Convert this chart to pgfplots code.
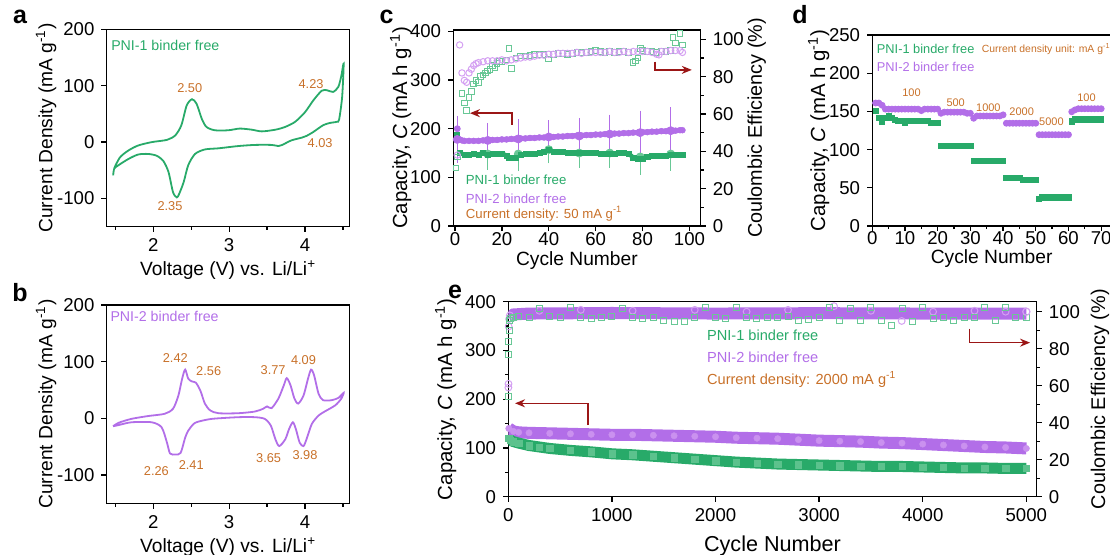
\documentclass[border=0pt]{standalone}
\usepackage{fontspec}
\setmainfont{Liberation Sans}
\usepackage{pgfplots}
\pgfplotsset{compat=1.18}
\usetikzlibrary{arrows.meta}
\definecolor{pgreen}{RGB}{40,170,105}
\definecolor{ppurple}{RGB}{178,110,232}
\definecolor{lgreen}{RGB}{105,200,150}
\definecolor{lpurple}{RGB}{212,160,242}
\definecolor{anno}{RGB}{200,112,40}
\definecolor{darr}{RGB}{155,22,22}
\newcommand{\tfont}{\fontsize{9.3}{10}\selectfont}
\newcommand{\lfont}{\fontsize{9.6}{11}\selectfont}
\newcommand{\afont}{\fontsize{6.4}{7}\selectfont}
\pgfplotsset{
  base/.style={scale only axis, axis line style={line width=0.75pt}, tick align=outside,
    major tick length=2.6pt, minor tick length=1.6pt,
    every tick/.style={black, line width=0.65pt},
    tick label style={font=\tfont, black}, label style={font=\lfont},
    /pgf/number format/assume math mode=true, /pgf/number format/1000 sep={},
    scaled ticks=false},
  panel/.style={base, tick pos=left},
  rpanel/.style={base, axis y line*=right, axis x line=none, ytick pos=right}
}
\begin{document}
\begin{tikzpicture}
\useasboundingbox (0,0) rectangle (555pt,277pt);
% ---------------- panel a
\begin{axis}[panel, at={(53.35pt,163.65pt)}, anchor=south west, width=121.4pt, height=98.7pt,
  xmin=1.385, xmax=4.587, ymin=-150, ymax=200, xtick={2,3,4}, minor xtick={1.5,2.5,3.5,4.5},
  ytick={-100,0,100,200}, xlabel={Voltage (V) vs. Li/Li\textsuperscript{+}},
  ylabel={Current Density (mA g\textsuperscript{-1})},
  xlabel style={yshift=2.5pt}, ylabel style={yshift=-6.5pt}]
\addplot[pgreen, line width=0.9pt, smooth, tension=0.45] coordinates {
(1.485,-46) (1.56,-27) (1.67,-15) (1.80,-6) (1.98,0) (2.18,4) (2.29,12) (2.37,30) (2.44,65) (2.51,76) (2.57,68) (2.64,41) (2.70,27) (2.81,21) (2.99,21) (3.14,24) (3.30,22) (3.43,19) (3.61,22) (3.74,27) (3.87,36) (4.00,53) (4.11,74) (4.22,91) (4.29,92) (4.37,89) (4.44,98) (4.48,118) (4.51,139)
(4.49,80) (4.45,40) (4.42,36) (4.33,34) (4.24,30) (4.11,18) (4.02,11) (3.96,8) (3.82,3) (3.70,-5) (3.65,-7) (3.56,-5) (3.34,-5) (3.12,-7) (2.86,-11) (2.68,-13) (2.55,-21) (2.46,-41) (2.40,-71) (2.34,-92) (2.31,-98) (2.26,-89) (2.20,-53) (2.13,-33) (2.04,-24) (1.93,-21) (1.80,-22) (1.67,-30) (1.54,-41) (1.485,-47) (1.47,-59)};
\node[anno, font=\afont] at (axis cs:2.48,95) {2.50};
\node[anno, font=\afont] at (axis cs:2.22,-114) {2.35};
\node[anno, font=\afont] at (axis cs:4.08,102) {4.23};
\node[anno, font=\afont] at (axis cs:4.20,-1) {4.03};
\node[pgreen, font=\fontsize{7.1}{8}\selectfont, anchor=west, inner sep=0pt] at (axis cs:1.44,172) {PNI-1 binder free};
\end{axis}
% ---------------- panel b
\begin{axis}[panel, at={(53.35pt,25.35pt)}, anchor=south west, width=121.4pt, height=99.15pt,
  xmin=1.385, xmax=4.587, ymin=-150, ymax=200, xtick={2,3,4}, minor xtick={1.5,2.5,3.5,4.5},
  ytick={-100,0,100,200}, xlabel={Voltage (V) vs. Li/Li\textsuperscript{+}},
  ylabel={Current Density (mA g\textsuperscript{-1})},
  xlabel style={yshift=2.5pt}, ylabel style={yshift=-6.5pt}]
\addplot[ppurple, line width=0.9pt, smooth, tension=0.45] coordinates {
(1.47,-14) (1.54,-8) (1.71,-1) (1.93,4) (2.15,8) (2.26,17) (2.33,40) (2.38,70) (2.42,86) (2.46,70) (2.51,65) (2.56,63) (2.62,49) (2.68,26) (2.75,14) (2.86,9) (3.12,9) (3.34,12) (3.45,17) (3.50,21) (3.56,18) (3.65,35) (3.72,58) (3.76,71) (3.81,58) (3.86,35) (3.91,26) (3.98,40) (4.04,70) (4.08,86) (4.12,76) (4.18,43) (4.24,32) (4.35,32) (4.44,36) (4.51,45)
(4.48,35) (4.40,23) (4.26,12) (4.18,5) (4.09,-10) (4.02,-37) (3.98,-49) (3.93,-43) (3.88,-19) (3.84,-7) (3.79,-19) (3.74,-37) (3.66,-49) (3.61,-37) (3.55,-13) (3.47,-1) (3.34,2) (3.12,2) (2.77,-1) (2.59,-6) (2.53,-10) (2.46,-22) (2.42,-34) (2.36,-61) (2.29,-64) (2.22,-62) (2.18,-43) (2.11,-16) (1.98,-7) (1.71,-7) (1.54,-12) (1.47,-14)};
\node[anno, font=\afont] at (axis cs:2.29,107) {2.42};
\node[anno, font=\afont] at (axis cs:2.73,83) {2.56};
\node[anno, font=\afont] at (axis cs:3.58,85) {3.77};
\node[anno, font=\afont] at (axis cs:3.98,102) {4.09};
\node[anno, font=\afont] at (axis cs:2.04,-93) {2.26};
\node[anno, font=\afont] at (axis cs:2.50,-83) {2.41};
\node[anno, font=\afont] at (axis cs:3.52,-70) {3.65};
\node[anno, font=\afont] at (axis cs:4.00,-65) {3.98};
\node[ppurple, font=\fontsize{7.1}{8}\selectfont, anchor=west, inner sep=0pt] at (axis cs:1.43,179) {PNI-2 binder free};
\end{axis}
% ---------------- panel c
\begin{axis}[panel, at={(226.65pt,164pt)}, anchor=south west, width=123.6pt, height=98pt,
  xmin=-0.7, xmax=104.7, ymin=0, ymax=403, xtick={0,20,...,100}, ytick={0,100,...,400},
  xlabel={Cycle Number}, ylabel={Capacity, \textit{C} (mA h g\textsuperscript{-1})},
  xticklabel style={yshift=3pt}, xlabel style={yshift=4pt},
  ylabel style={font=\fontsize{10.2}{11}\selectfont, yshift=-7.5pt}]
\addplot[lgreen, only marks, mark=none, error bars/.cd, y dir=both, y explicit,
  error bar style={lgreen, line width=0.7pt}, error mark options={lgreen, mark size=2pt, line width=0.7pt}]
  coordinates {(14,148) +- (0,24) (27,148) +- (0,27) (40,157) +- (0,20) (53,150) +- (0,22) (66,150) +- (0,22) (79,142) +- (0,28) (92,148) +- (0,26)};
\addplot[pgreen, line width=2.2pt, mark=square*, mark size=1.3pt, mark options={line width=0.2pt}] coordinates {
(2,150) (4,147) (6,146) (8,148) (10,147) (12,150) (14,146) (16,148) (18,149) (20,149) (22,145) (23,140) (25,140) (26,141) (28,147) (30,148) (32,149) (34,149) (36,150) (38,153) (40,157) (42,153) (44,152) (46,152) (48,151) (50,151) (52,150) (54,150) (56,150) (58,150) (60,150) (62,149) (64,149) (66,149) (68,149) (70,150) (72,150) (74,149) (76,141) (78,139) (80,138) (82,142) (84,144) (86,145) (88,145) (90,145) (92,146) (94,146) (96,147) (97,147)};
\addplot[pgreen, only marks, mark=square*, mark size=1.3pt] coordinates {(1,187)};
\addplot[ppurple, line width=2.6pt, mark=*, mark size=1.5pt, mark options={line width=0.2pt}] coordinates {
(2,178) (3,176) (4,175) (6,175) (8,175) (10,175) (12,176) (14,176) (16,177) (18,177) (20,178) (22,178) (24,179) (26,179) (28,180) (30,180) (32,181) (34,181) (36,182) (38,182) (40,183) (42,183) (44,184) (46,184) (48,185) (50,185) (52,186) (54,186) (56,187) (58,187) (60,188) (62,188) (64,189) (66,189) (68,190) (70,190) (72,191) (74,191) (76,192) (78,192) (80,193) (82,193) (84,194) (86,194) (88,195) (90,195) (92,196) (94,196) (96,197) (97,197)};
\addplot[ppurple, only marks, mark=*, mark size=1.5pt] coordinates {(1,200)};
\addplot[ppurple, only marks, mark=none, error bars/.cd, y dir=both, y explicit,
  error bar style={ppurple, line width=0.7pt}, error mark options={ppurple, mark size=2pt, line width=0.7pt}]
  coordinates {(1,178) +- (0,40) (14,176) +- (0,28) (27,179) +- (0,32) (40,183) +- (0,26) (53,185) +- (0,29) (66,189) +- (0,32) (79,192) +- (0,37) (92,196) +- (0,40)};
\draw[darr, line width=0.8pt, -{Stealth[length=5pt,width=4pt]}] (axis cs:24.2,208) -- (axis cs:24.2,232) -- (axis cs:6.4,232);
\draw[darr, line width=0.8pt, -{Stealth[length=5pt,width=4pt]}] (axis cs:85.3,338) -- (axis cs:85.3,321) -- (axis cs:101,321);
\node[pgreen, font=\fontsize{6.6}{7}\selectfont, anchor=west, inner sep=0pt] at (axis cs:4.5,95) {PNI-1 binder free};
\node[ppurple, font=\fontsize{6.6}{7}\selectfont, anchor=west, inner sep=0pt] at (axis cs:4.5,56) {PNI-2 binder free};
\node[anno, font=\fontsize{6.6}{7}\selectfont, anchor=west, inner sep=0pt] at (axis cs:4.5,25) {Current density: 50 mA g\textsuperscript{-1}};
\end{axis}
\begin{axis}[rpanel, at={(226.65pt,164pt)}, anchor=south west, width=123.6pt, height=98pt,
  xmin=-0.7, xmax=104.7, ymin=0, ymax=105, ytick={0,20,...,100}, minor ytick={10,30,...,90},
  ylabel={Coulombic Efficiency (\%)}, ylabel style={font=\fontsize{9.9}{11}\selectfont, yshift=5pt}]
\addplot[lgreen, only marks, mark=square, mark size=1.4pt, line width=0.5pt] coordinates {
(0.5,31) (1,37) (3,71) (4,66) (5,62) (6,69) (7,72) (8,76) (9,78) (10,77) (11,80) (12,81) (13,82) (14,83) (15,84) (16,86) (17,85) (18,87) (19,88) (20,88) (22,89) (23,95) (24,84.5) (26,90) (28,91) (30,91) (32,91.5) (34,92) (36,92) (38,92) (40,89.5) (42,92) (44,92.5) (46,92.5) (48,92) (50,92.5) (52,93) (54,93) (56,93) (58,93.5) (60,94) (62,93.5) (64,93) (66,93.5) (68,93) (70,93.5) (72,93.5) (74,93) (76,87.5) (77,88.5) (78,90) (79,95) (80,94) (82,93.5) (84,93.5) (86,93) (88,93.5) (90,93.5) (92,94) (93,101) (94,98) (96,103) (97,97)};
\addplot[lpurple, only marks, mark=o, mark size=1.6pt, line width=0.5pt] coordinates {
(1,38) (2,97) (3,82) (4,78) (5,77) (6,82) (7,84) (8,86) (9,87) (10,87.5) (12,88) (14,88.5) (16,88.5) (18,88.5) (20,89) (22,88.5) (24,89) (26,89.5) (28,90) (30,90.5) (32,90.5) (34,91) (36,91.5) (38,91.5) (40,92) (42,92) (44,92.5) (46,92.5) (48,92.5) (50,92.5) (52,93) (54,92.5) (56,93) (58,93) (60,93) (62,93) (64,93) (66,93.5) (68,93) (70,93) (72,93.5) (74,93) (76,93.5) (78,93.5) (80,93.5) (82,93.5) (84,93) (86,92) (87,91.7) (88,93.5) (90,93.5) (92,94) (94,94) (96,94) (97,93)};
\end{axis}
% ---------------- panel d
\begin{axis}[panel, at={(436.15pt,164pt)}, anchor=south west, width=119.35pt, height=95.5pt,
  xmin=0, xmax=73, ymin=0, ymax=250, xtick={0,10,...,70}, minor xtick={5,15,...,65}, ytick={0,50,...,250},
  xlabel={Cycle Number}, ylabel={Capacity, \textit{C} (mA h g\textsuperscript{-1})},
  xticklabel style={yshift=3.5pt}, xlabel style={yshift=4.5pt},
  ylabel style={font=\fontsize{10.2}{11}\selectfont, yshift=-7pt}]
\addplot[pgreen, only marks, mark=square*, mark size=1.3pt] coordinates {
(1,151) (2,141) (3,137) (4,142) (5,144) (6,141) (7,139) (8,138) (9,138) (10,135) (11,138) (12,138) (13,138) (14,138) (15,138) (16,138) (17,138) (18,135) (19,135) (20,135)
(21,105) (22,105) (23,105) (24,105) (25,105) (26,105) (27,105) (28,105) (29,105) (30,105)
(31,85) (32,85) (33,85) (34,85) (35,85) (36,85) (37,85) (38,85) (39,85) (40,85)
(41,63) (42,63) (43,63) (44,63) (45,63) (46,60.5) (47,60.5) (48,60.5) (49,60.5) (50,60.5)
(51,35) (52,37.5) (53,37.5) (54,37.5) (55,37.5) (56,37.5) (57,37.5) (58,37.5) (59,37.5) (60,37.5)
(61,137) (62,139.5) (63,139.5) (64,139.5) (65,139.5) (66,139.5) (67,139.5) (68,139.5) (69,139.5) (70,139.5)};
\addplot[ppurple, only marks, mark=*, mark size=1.5pt] coordinates {
(1,161) (2,161) (3,158) (4,153) (5,153) (6,153) (7,153) (8,153) (9,153) (10,153) (11,153) (12,153) (13,153) (14,153) (15,151) (16,153) (17,153) (18,153) (19,153) (20,153)
(21,147.5) (22,149) (23,149) (24,149) (25,149) (26,149) (27,149) (28,149) (29,147.5) (30,147.5)
(31,141) (32,144) (33,144) (34,144) (35,144) (36,144) (37,144) (38,144) (39,144) (40,145.5)
(41,134.5) (42,134.5) (43,134.5) (44,134.5) (45,134.5) (46,134.5) (47,134.5) (48,134.5) (49,134.5) (50,134.5)
(51,119.5) (52,119.5) (53,119.5) (54,119.5) (55,119.5) (56,119.5) (57,119.5) (58,119.5) (59,119.5) (60,119.5)
(61,149.5) (62,152) (63,153.5) (64,153.5) (65,153.5) (66,153.5) (67,153.5) (68,153.5) (69,153.5) (70,153.5)};
\node[anno, font=\fontsize{5.5}{6}\selectfont] at (axis cs:12,174.5) {100};
\node[anno, font=\fontsize{5.5}{6}\selectfont] at (axis cs:25.5,161) {500};
\node[anno, font=\fontsize{5.5}{6}\selectfont] at (axis cs:35.5,155) {1000};
\node[anno, font=\fontsize{5.5}{6}\selectfont] at (axis cs:45.7,149) {2000};
\node[anno, font=\fontsize{5.5}{6}\selectfont] at (axis cs:54.8,136.6) {5000};
\node[anno, font=\fontsize{5.5}{6}\selectfont] at (axis cs:65.5,168) {100};
\node[pgreen, font=\fontsize{6.4}{7}\selectfont, anchor=west, inner sep=0pt] at (axis cs:1.3,231.7) {PNI-1 binder free};
\node[ppurple, font=\fontsize{6.4}{7}\selectfont, anchor=west, inner sep=0pt] at (axis cs:1.3,207.7) {PNI-2 binder free};
\node[anno, font=\fontsize{5.2}{6}\selectfont, anchor=west, inner sep=0pt] at (axis cs:33.4,231.7) {Current density unit: mA g\textsuperscript{-1}};
\end{axis}
% ---------------- panel e
\begin{axis}[panel, at={(254.15pt,28.65pt)}, anchor=south west, width=264.2pt, height=97.5pt,
  xmin=0, xmax=5100, ymin=0, ymax=400, xtick={0,1000,...,5000}, ytick={0,100,...,400}, minor ytick={50,150,...,350},
  xlabel={Cycle Number}, xlabel style={font=\fontsize{10.8}{12}\selectfont},
  ylabel={Capacity, \textit{C} (mA h g\textsuperscript{-1})},
  ylabel style={font=\fontsize{10.2}{11}\selectfont, yshift=-2.5pt}]
\addplot[ppurple, line width=6pt, mark=*, mark size=1.6pt, mark options={fill=lpurple!70!ppurple, draw=lpurple!70!ppurple, line width=0.2pt}] coordinates {
(5,140) (50,134) (100,132) (200,131) (400,130) (600,129) (800,128) (1000,127) (1200,127) (1400,126) (1600,125) (1800,124) (2000,123) (2200,121) (2400,120) (2600,119) (2800,117) (3000,115) (3200,114) (3400,113) (3600,111) (3800,110) (4000,108) (4200,106) (4400,104) (4600,102) (4800,101) (5000,99)};
\addplot[pgreen, line width=5.5pt, mark=square*, mark size=1.6pt, mark options={fill=lgreen!80!pgreen, draw=lgreen!80!pgreen, line width=0.2pt}] coordinates {
(5,120) (20,116) (50,113) (100,110) (200,105) (300,102) (400,99) (600,95) (800,92) (1000,88) (1200,86) (1400,83) (1600,80) (1800,77) (2000,74) (2200,71) (2400,69) (2600,67) (2800,66) (3000,65) (3200,64) (3400,63) (3600,62) (3800,62) (4000,61) (4200,60) (4400,59) (4600,59) (4800,58) (5000,58)};
\draw[darr, line width=0.8pt, -{Stealth[length=5pt,width=4pt]}] (axis cs:772,147) -- (axis cs:772,191.6) -- (axis cs:65,191.6);
\draw[darr, line width=0.8pt, -{Stealth[length=5pt,width=4pt]}] (axis cs:4450,345) -- (axis cs:4450,316) -- (axis cs:5036,316);
\node[pgreen, font=\fontsize{7.3}{8}\selectfont, anchor=west, inner sep=0pt] at (axis cs:1915,332) {PNI-1 binder free};
\node[ppurple, font=\fontsize{7.3}{8}\selectfont, anchor=west, inner sep=0pt] at (axis cs:1915,287) {PNI-2 binder free};
\node[anno, font=\fontsize{7.3}{8}\selectfont, anchor=west, inner sep=0pt] at (axis cs:1915,241) {Current density: 2000 mA g\textsuperscript{-1}};
\end{axis}
\begin{axis}[rpanel, at={(254.15pt,28.65pt)}, anchor=south west, width=264.2pt, height=97.5pt,
  xmin=0, xmax=5100, ymin=0, ymax=105.4, ytick={0,20,...,100}, minor ytick={10,30,...,90},
  ylabel={Coulombic Efficiency (\%)}, ylabel style={font=\fontsize{9.9}{11}\selectfont, yshift=1.5pt}]
\addplot[ppurple, line width=6pt] coordinates {(12,97) (50,98.5) (200,99) (1000,99.3) (2000,99) (3000,99.2) (4000,99) (5000,99)};
\addplot[lpurple, only marks, mark=o, mark size=1.7pt, line width=0.5pt] coordinates {
(1,59) (2,61) (4,92) (8,96) (15,98) (300,100.5) (700,101) (1200,100.5) (1800,101) (2300,100) (2700,101) (3144,103) (3500,100.5) (3797,95) (4100,100) (4500,100.5) (4800,100)};
\addplot[lgreen, only marks, mark=square, mark size=1.5pt, line width=0.5pt] coordinates {
(1,54) (3,77) (5,84) (8,90) (12,95) (20,96.5) (50,97) (100,97.5) (200,97) (300,101.5) (400,97.5) (500,97) (600,102) (700,97) (800,96.5) (900,97) (1000,97.5) (1100,101.5) (1200,97) (1300,96.5) (1400,97) (1500,95) (1600,94.5) (1700,94.5) (1800,97) (1900,102) (2000,97) (2100,96.5) (2200,102) (2300,97) (2400,96.5) (2500,97) (2600,97) (2700,97.5) (2800,95.5) (2900,96) (3000,97) (3100,102) (3200,95) (3300,101.5) (3400,95) (3500,102) (3600,95.5) (3700,92.5) (3800,101.5) (3900,94.5) (4000,102) (4100,96.5) (4200,97) (4300,95.5) (4400,97) (4500,97) (4600,102) (4700,95) (4800,102) (4900,97) (5000,97)};
\addplot[lpurple, only marks, mark=o, mark size=1.8pt, line width=0.6pt, mark options={fill=white}] coordinates {(5000,100)};
\end{axis}
% panel letters
\node[font=\fontsize{12.5}{13}\selectfont\bfseries] at (10pt,268.5pt) {a};
\node[font=\fontsize{12.5}{13}\selectfont\bfseries] at (10pt,130.5pt) {b};
\node[font=\fontsize{12.5}{13}\selectfont\bfseries] at (193.3pt,268.7pt) {c};
\node[font=\fontsize{12.5}{13}\selectfont\bfseries] at (400pt,269.5pt) {d};
\node[font=\fontsize{12.5}{13}\selectfont\bfseries] at (227.5pt,131pt) {e};
\end{tikzpicture}
\end{document}
